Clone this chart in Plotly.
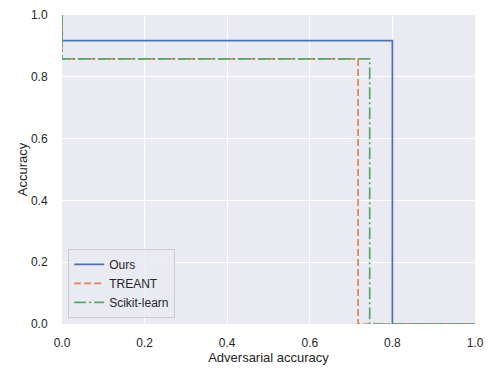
import plotly.graph_objects as go

series_names = ["Ours", "TREANT", "Scikit-learn"]
adv_acc = {
    "Ours": [0.0, 0.0, 0.8, 0.8, 1.0],
    "TREANT": [0.0, 0.0, 0.717, 0.717, 1.0],
    "Scikit-learn": [0.0, 0.0, 0.745, 0.745, 1.0],
}
accuracy = {
    "Ours": [1.0, 0.917, 0.917, 0.0, 0.0],
    "TREANT": [1.0, 0.858, 0.858, 0.0, 0.0],
    "Scikit-learn": [1.0, 0.858, 0.858, 0.0, 0.0],
}
tick_vals = [0.0, 0.2, 0.4, 0.6, 0.8, 1.0]
tick_text = ["0.0", "0.2", "0.4", "0.6", "0.8", "1.0"]

colors = {"Ours": "#4C72B0", "TREANT": "#DD8452", "Scikit-learn": "#55A868"}
dashes = {"Ours": "solid", "TREANT": "7px,3px", "Scikit-learn": "12px,3px,2px,3px"}

fig = go.Figure()
for name in series_names:
    fig.add_trace(go.Scatter(
        x=adv_acc[name], y=accuracy[name], mode="lines", name=name,
        line=dict(color=colors[name], width=1.7, dash=dashes[name]),
    ))

axis_common = dict(
    range=[0, 1], tickvals=tick_vals, ticktext=tick_text, automargin=False,
    showgrid=True, gridcolor="white", gridwidth=1.2, zeroline=False,
    showline=False, ticks="outside", tickcolor="rgba(0,0,0,0)",
    tickfont=dict(size=12, color="#262626"),
)
fig.update_layout(
    width=492, height=369,
    margin=dict(l=62, r=17, t=15, b=45),
    paper_bgcolor="white", plot_bgcolor="#EAEAF2",
    font=dict(family="Liberation Sans, Arial, sans-serif", size=12, color="#262626"),
    xaxis=dict(title=dict(text="Adversarial accuracy", font=dict(size=13), standoff=3),
               ticklen=8, **axis_common),
    yaxis=dict(title=dict(text="Accuracy", font=dict(size=13), standoff=0),
               ticklen=11, **axis_common),
    legend=dict(x=0.015, y=0.02, xanchor="left", yanchor="bottom",
                bgcolor="rgba(234,234,242,0.8)", bordercolor="#CCCCCC", borderwidth=1,
                font=dict(size=12), tracegroupgap=0, itemwidth=30),
    showlegend=True,
)
fig.write_html("out.html", config={"displayModeBar": False},
               post_script="document.body.style.margin='0';")
